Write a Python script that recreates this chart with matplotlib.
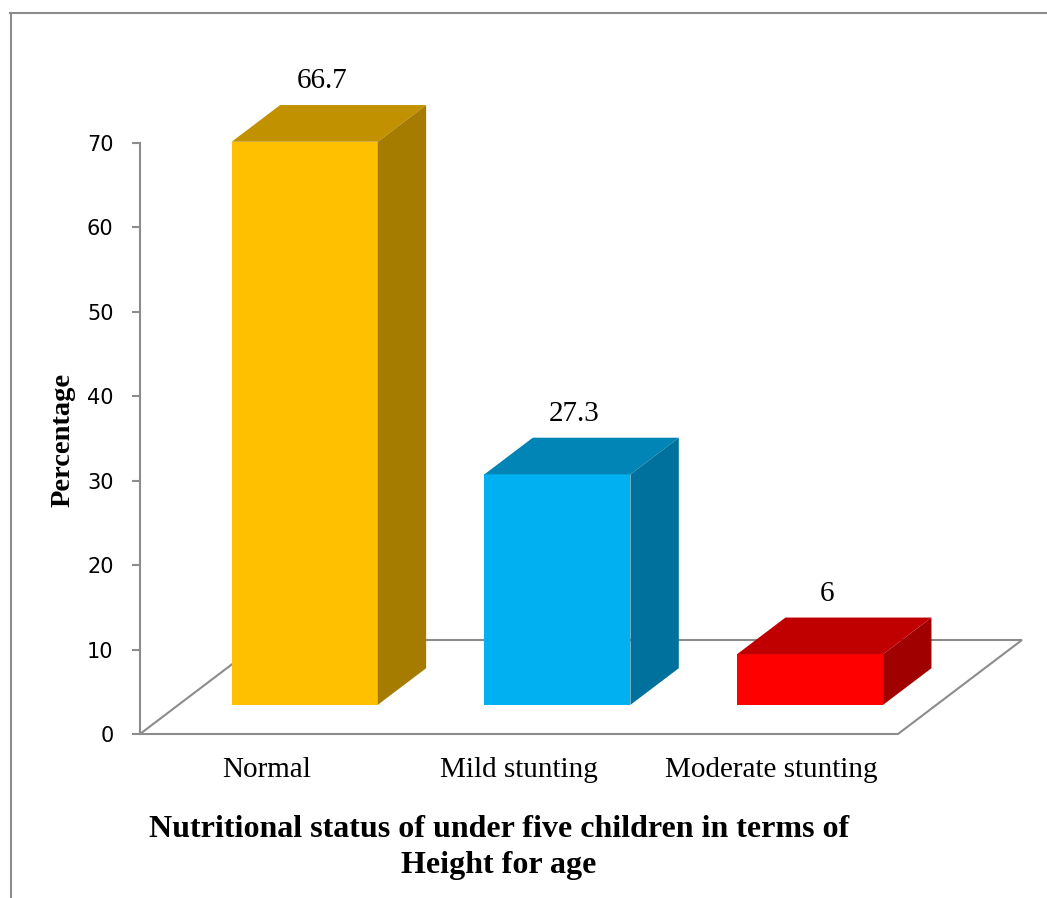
import matplotlib
matplotlib.use("Agg")
import matplotlib.pyplot as plt
from matplotlib.patches import Polygon, Rectangle
from matplotlib.lines import Line2D

# data
categories = ['Normal', 'Mild stunting', 'Moderate stunting']
values = [66.7, 27.3, 6]
value_labels = ['66.7', '27.3', '6']
yticks = [0, 10, 20, 30, 40, 50, 60, 70]

front_colors = ['#FFC000', '#00B0F0', '#FF0000']
top_colors = ['#C29100', '#0085B6', '#C00000']
side_colors = ['#A67C00', '#00719C', '#A00000']
grey = '#8C8C8C'
serif = 'Liberation Serif'

W, H = 1047, 898
fig = plt.figure(figsize=(W / 100, H / 100), dpi=100)
ax = fig.add_axes([140 / W, (H - 734) / H, 884.3 / W, 591 / H])
ax.set_xlim(-0.5, 3.0)
ax.set_ylim(0, 70)

# oblique "3D" depth of the floor, in data units
px_x = 884.3 / 3.5
px_y = 591 / 70
DX, DY = 124 / px_x, 94 / px_y
bar_front, bar_back = 0.31, 0.70
half = 0.289

# floor
n = len(categories)
floor = Polygon([(-0.5, 0), (n - 0.5, 0), (n - 0.5 + DX, DY), (-0.5 + DX, DY)],
                closed=True, fill=False, edgecolor=grey, lw=1.5,
                clip_on=False, zorder=1)
ax.add_patch(floor)

bx = (bar_back - bar_front) * DX
by = (bar_back - bar_front) * DY
for i, v in enumerate(values):
    x0 = i - half + bar_front * DX
    y0 = bar_front * DY
    w = 2 * half
    ax.add_patch(Rectangle((x0, y0), w, v, facecolor=front_colors[i],
                           edgecolor='none', clip_on=False, zorder=3))
    ax.add_patch(Polygon([(x0, y0 + v), (x0 + w, y0 + v),
                          (x0 + w + bx, y0 + v + by), (x0 + bx, y0 + v + by)],
                         facecolor=top_colors[i], edgecolor='none',
                         clip_on=False, zorder=3))
    ax.add_patch(Polygon([(x0 + w, y0), (x0 + w + bx, y0 + by),
                          (x0 + w + bx, y0 + v + by), (x0 + w, y0 + v)],
                         facecolor=side_colors[i], edgecolor='none',
                         clip_on=False, zorder=3))
    ax.annotate(value_labels[i], xy=(x0 + half + 0.35 * bx, y0 + v + by),
                xytext=(0, 17), textcoords='offset pixels', ha='center',
                va='baseline', fontsize=21, family=serif, annotation_clip=False)
    ax.annotate(categories[i], xy=(i, 0), xytext=(0, -43),
                textcoords='offset pixels', ha='center', va='baseline',
                fontsize=21, family=serif, annotation_clip=False)

# axes styling
for s in ['top', 'right', 'bottom']:
    ax.spines[s].set_visible(False)
ax.spines['left'].set_color(grey)
ax.spines['left'].set_linewidth(1.5)
ax.set_xticks([])
ax.set_yticks(yticks)
ax.tick_params(axis='y', length=6, width=1.5, color=grey, pad=13,
               labelsize=15)
ax.patch.set_visible(False)

fig.text(63 / W, 1 - 440 / H, 'Percentage', rotation=90, ha='center',
         va='center', fontsize=20.5, fontweight='bold', family=serif)
fig.text(499 / W, 1 - 837 / H,
         'Nutritional status of under five children in terms of',
         ha='center', va='baseline', fontsize=23, fontweight='bold',
         family=serif)
fig.text(499 / W, 1 - 873 / H, 'Height for age', ha='center',
         va='baseline', fontsize=23, fontweight='bold', family=serif)

# chart border (only left and top sides fall inside the image)
fig.add_artist(Line2D([10.5 / W, 10.5 / W], [0, 1 - 13 / H],
                      transform=fig.transFigure, color=grey, lw=1.5))
fig.add_artist(Line2D([10 / W, 1], [1 - 13 / H, 1 - 13 / H],
                      transform=fig.transFigure, color=grey, lw=1.5))

fig.savefig('out.png', dpi=100)
